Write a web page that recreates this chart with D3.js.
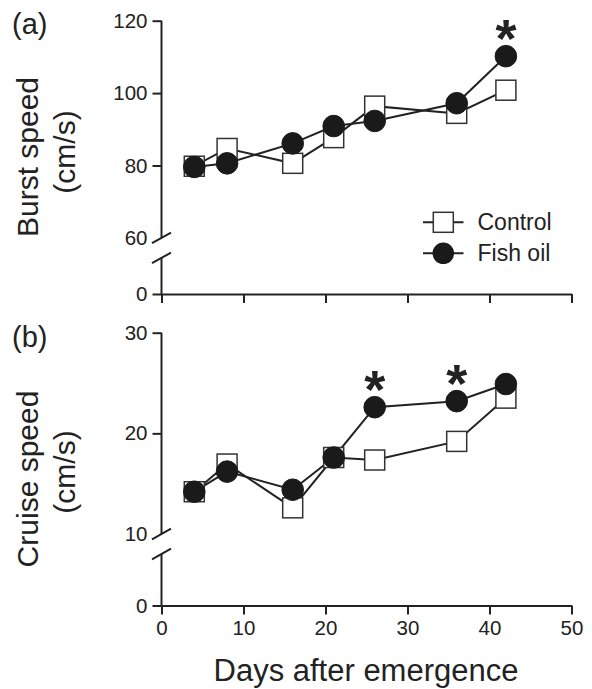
<!DOCTYPE html>
<html><head><meta charset="utf-8">
<script src="https://cdn.jsdelivr.net/npm/d3@7"></script>
<style>body{margin:0;background:#fff;} svg{display:block;} text{font-family:"Liberation Sans",Arial,sans-serif;fill:#222;}</style>
</head><body>
<script>
const days = [4, 8, 16, 21, 26, 36, 42];
const burstControl = [79.8, 84.7, 80.6, 87.7, 96.4, 94.4, 100.8];
const burstFishOil = [79.6, 80.6, 86.1, 90.9, 92.3, 97.2, 110.2];
const cruiseControl = [14.2, 16.95, 12.6, 17.6, 17.35, 19.2, 23.5];
const cruiseFishOil = [14.2, 16.2, 14.4, 17.6, 22.6, 23.2, 24.9];
const burstSig = [42];
const cruiseSig = [26, 36];
const xTicks = [0, 10, 20, 30, 40, 50];
const burstTicks = [60, 80, 100, 120];
const cruiseTicks = [10, 20, 30];
const seriesNames = ["Control", "Fish oil"];

const W = 592, H = 689, ink = "#222";
const svg = d3.select("body").append("svg").attr("width", W).attr("height", H);
const x = d3.scaleLinear().domain([0, 50]).range([161.5, 571.5]);

function panel(cfg) {
  const g = svg.append("g");
  const y = d3.scaleLinear().domain(cfg.domain).range(cfg.range);
  const y0 = cfg.zeroY;
  const ax = x(0);
  // x axis
  const xa = g.append("g").attr("transform", `translate(0,${y0})`)
    .call(d3.axisBottom(x).tickValues(xTicks).tickSize(9).tickSizeOuter(0).tickPadding(6)
      .tickFormat(cfg.xLabels ? d3.format("d") : () => ""));
  xa.select(".domain").attr("stroke", ink).attr("stroke-width", 2);
  xa.selectAll(".tick line").attr("stroke", ink).attr("stroke-width", 2);
  xa.selectAll(".tick text").style("font-size", "20.5px").attr("fill", ink);
  // upper y axis
  const ya = g.append("g").attr("transform", `translate(${ax},0)`)
    .call(d3.axisLeft(y).tickValues(cfg.ticks).tickSize(9).tickPadding(5).tickFormat(d3.format("d")));
  ya.select(".domain").remove();
  ya.selectAll(".tick line").attr("stroke", ink).attr("stroke-width", 2)
    .filter(d => d === cfg.domain[0]).remove();
  ya.selectAll(".tick text").style("font-size", "20.5px").attr("fill", ink);
  // zero tick
  const za = g.append("g").attr("transform", `translate(${ax},0)`)
    .call(d3.axisLeft(d3.scaleLinear().domain([0, 1]).range([y0, y0 - 1])).tickValues([0])
      .tickSize(9).tickPadding(5).tickFormat(d3.format("d")));
  za.select(".domain").remove();
  za.selectAll(".tick line").attr("stroke", ink).attr("stroke-width", 2);
  za.selectAll(".tick text").style("font-size", "20.5px").attr("fill", ink);
  // axis segments with break
  const yb = y(cfg.domain[0]);
  g.append("line").attr("x1", ax).attr("x2", ax).attr("y1", y(cfg.domain[1])).attr("y2", yb)
    .attr("stroke", ink).attr("stroke-width", 2);
  const gap = cfg.gap;
  g.append("line").attr("x1", ax).attr("x2", ax).attr("y1", yb + gap).attr("y2", y0)
    .attr("stroke", ink).attr("stroke-width", 2);
  [0, gap].forEach(o => g.append("line")
    .attr("x1", ax - 9.5).attr("y1", yb + o + 5.3).attr("x2", ax + 9.5).attr("y2", yb + o - 5.3)
    .attr("stroke", ink).attr("stroke-width", 2));
  // series
  const line = d3.line().x((d, i) => x(days[i])).y(d => y(d));
  g.append("path").datum(cfg.control).attr("d", line).attr("fill", "none").attr("stroke", ink).attr("stroke-width", 2);
  g.append("path").datum(cfg.fish).attr("d", line).attr("fill", "none").attr("stroke", ink).attr("stroke-width", 2);
  g.selectAll(".sq").data(cfg.control).enter().append("rect")
    .attr("x", (d, i) => x(days[i]) - 10).attr("y", d => y(d) - 10).attr("width", 20).attr("height", 20)
    .attr("fill", "#fff").attr("stroke", "#333").attr("stroke-width", 1.5);
  g.selectAll(".ci").data(cfg.fish).enter().append("circle")
    .attr("cx", (d, i) => x(days[i])).attr("cy", d => y(d)).attr("r", 10.8)
    .attr("fill", "#1a1a1a").attr("stroke", "#1a1a1a").attr("stroke-width", 1);
  // significance asterisks
  cfg.sig.forEach(dd => {
    const v = cfg.fish[days.indexOf(dd)];
    g.append("text").attr("x", x(dd)).attr("y", y(v) + 1)
      .attr("text-anchor", "middle").style("font-size", "54px").style("font-weight", "bold").text("*");
  });
  // y title
  const t = cfg.title;
  g.append("text").attr("transform", `translate(37.5,${t.c1}) rotate(-90)`).attr("text-anchor", "middle")
    .style("font-size", "30px").text(t.l1);
  g.append("text").attr("transform", `translate(75,${t.c2}) rotate(-90)`).attr("text-anchor", "middle")
    .style("font-size", "30px").text(t.l2);
  g.append("text").attr("x", 12).attr("y", cfg.labelY).style("font-size", "29px").text(cfg.label);
  return y;
}

panel({domain: [60, 120], range: [237.9, 20.7], zeroY: 294, gap: 20, ticks: burstTicks,
  control: burstControl, fish: burstFishOil, sig: burstSig, xLabels: false,
  title: {l1: "Burst speed", l2: "(cm/s)", c1: 157, c2: 152}, label: "(a)", labelY: 33.5});
panel({domain: [10, 30], range: [534, 332.7], zeroY: 605.5, gap: 20, ticks: cruiseTicks,
  control: cruiseControl, fish: cruiseFishOil, sig: cruiseSig, xLabels: true,
  title: {l1: "Cruise speed", l2: "(cm/s)", c1: 479, c2: 472}, label: "(b)", labelY: 347});

// x title
svg.append("text").attr("x", 366).attr("y", 681).attr("text-anchor", "middle")
  .style("font-size", "31px").text("Days after emergence");

// legend
const lg = svg.append("g");
[222.3, 253.3].forEach((ly, i) => {
  lg.append("line").attr("x1", 423).attr("x2", 463.5).attr("y1", ly).attr("y2", ly).attr("stroke", ink).attr("stroke-width", 2);
  if (i === 0) lg.append("rect").attr("x", 433.3).attr("y", ly - 10).attr("width", 20).attr("height", 20)
    .attr("fill", "#fff").attr("stroke", "#333").attr("stroke-width", 1.5);
  else lg.append("circle").attr("cx", 443.3).attr("cy", ly).attr("r", 10.8).attr("fill", "#1a1a1a");
  lg.append("text").attr("x", 477.5).attr("y", ly + 8).style("font-size", "23px").text(seriesNames[i]);
});
</script>
</body></html>
